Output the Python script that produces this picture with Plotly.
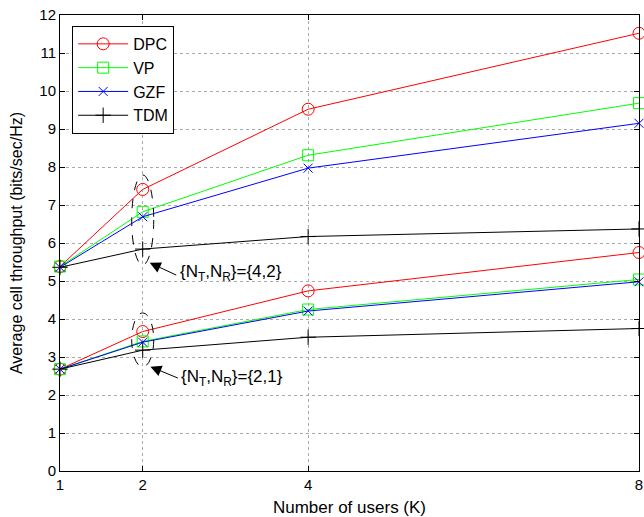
import plotly.graph_objects as go

users = [1, 2, 4, 8]

# {NT,NR} = {4,2}
dpc_42 = [5.38, 7.41, 9.52, 11.52]
vp_42 = [5.38, 6.82, 8.31, 9.68]
gzf_42 = [5.36, 6.69, 7.97, 9.15]
tdm_42 = [5.36, 5.84, 6.17, 6.37]

# {NT,NR} = {2,1}
dpc_21 = [2.68, 3.67, 4.74, 5.75]
vp_21 = [2.68, 3.41, 4.25, 5.04]
gzf_21 = [2.68, 3.39, 4.21, 4.98]
tdm_21 = [2.68, 3.18, 3.52, 3.75]

series = [
    ("DPC", dpc_42, dpc_21, "#FF0000", "circle-open", 12),
    ("VP", vp_42, vp_21, "#00FF00", "square-open", 11),
    ("GZF", gzf_42, gzf_21, "#0000FF", "x-thin-open", 9),
    ("TDM", tdm_42, tdm_21, "#000000", "cross-thin-open", 11),
]

fig = go.Figure()
for name, up, lo, col, sym, sz in series:
    for vals, show in ((up, True), (lo, False)):
        fig.add_trace(go.Scatter(
            x=users, y=vals, name=name, mode="lines+markers",
            line=dict(color=col, width=1),
            marker=dict(symbol=sym, size=sz, color=col, line=dict(color=col, width=1)),
            showlegend=show, legendgroup=name, cliponaxis=False,
        ))

font_family = "Liberation Sans, Arial, sans-serif"

shapes = [
    dict(type="circle", xref="x", yref="y", x0=1.867, x1=2.133, y0=5.42, y1=7.79,
         line=dict(color="black", width=1, dash="dash")),
    dict(type="circle", xref="x", yref="y", x0=1.867, x1=2.133, y0=2.74, y1=4.16,
         line=dict(color="black", width=1, dash="dash")),
]

annotations = [
    dict(x=2.085, y=5.48, xref="x", yref="y", ax=28, ay=13, text="", showarrow=True,
         arrowhead=2, arrowsize=2.2, arrowwidth=1, arrowcolor="black"),
    dict(x=2.43, y=5.2, xref="x", yref="y", text="{N<sub>T</sub>,N<sub>R</sub>}={4,2}",
         showarrow=False, xanchor="left", yanchor="middle",
         font=dict(family=font_family, size=17, color="black")),
    dict(x=2.093, y=2.745, xref="x", yref="y", ax=29, ay=12, text="", showarrow=True,
         arrowhead=2, arrowsize=2.2, arrowwidth=1, arrowcolor="black"),
    dict(x=2.44, y=2.45, xref="x", yref="y", text="{N<sub>T</sub>,N<sub>R</sub>}={2,1}",
         showarrow=False, xanchor="left", yanchor="middle",
         font=dict(family=font_family, size=17, color="black")),
]

axis_common = dict(
    showline=True, linecolor="black", linewidth=1, mirror="ticks",
    ticks="inside", ticklen=5, tickcolor="black",
    showgrid=True, gridcolor="#aaaaaa", griddash="dot", gridwidth=1,
    zeroline=False, automargin=False,
    tickfont=dict(family=font_family, size=15, color="black"),
)

fig.update_layout(
    width=644, height=517,
    margin=dict(l=60, r=5, t=15, b=46),
    plot_bgcolor="white", paper_bgcolor="white",
    font=dict(family=font_family, size=14, color="black"),
    xaxis=dict(range=[1, 8], tickvals=users, ticktext=[str(u) for u in users],
               title=dict(text="Number of users (K)", font=dict(size=17), standoff=9),
               **axis_common),
    yaxis=dict(range=[0, 12], tickvals=list(range(13)),
               title=dict(text="Average cell throughput (bits/sec/Hz)", font=dict(size=16), standoff=12),
               **axis_common),
    legend=dict(x=0.021, y=0.976, xanchor="left", yanchor="top",
                bordercolor="black", borderwidth=1, bgcolor="white",
                font=dict(family=font_family, size=16), itemwidth=50,
                tracegroupgap=0),
    shapes=shapes, annotations=annotations,
)

fig.write_html("out.html", config={"displayModeBar": False},
               post_script="document.body.style.margin='0';document.body.style.overflow='hidden';")
